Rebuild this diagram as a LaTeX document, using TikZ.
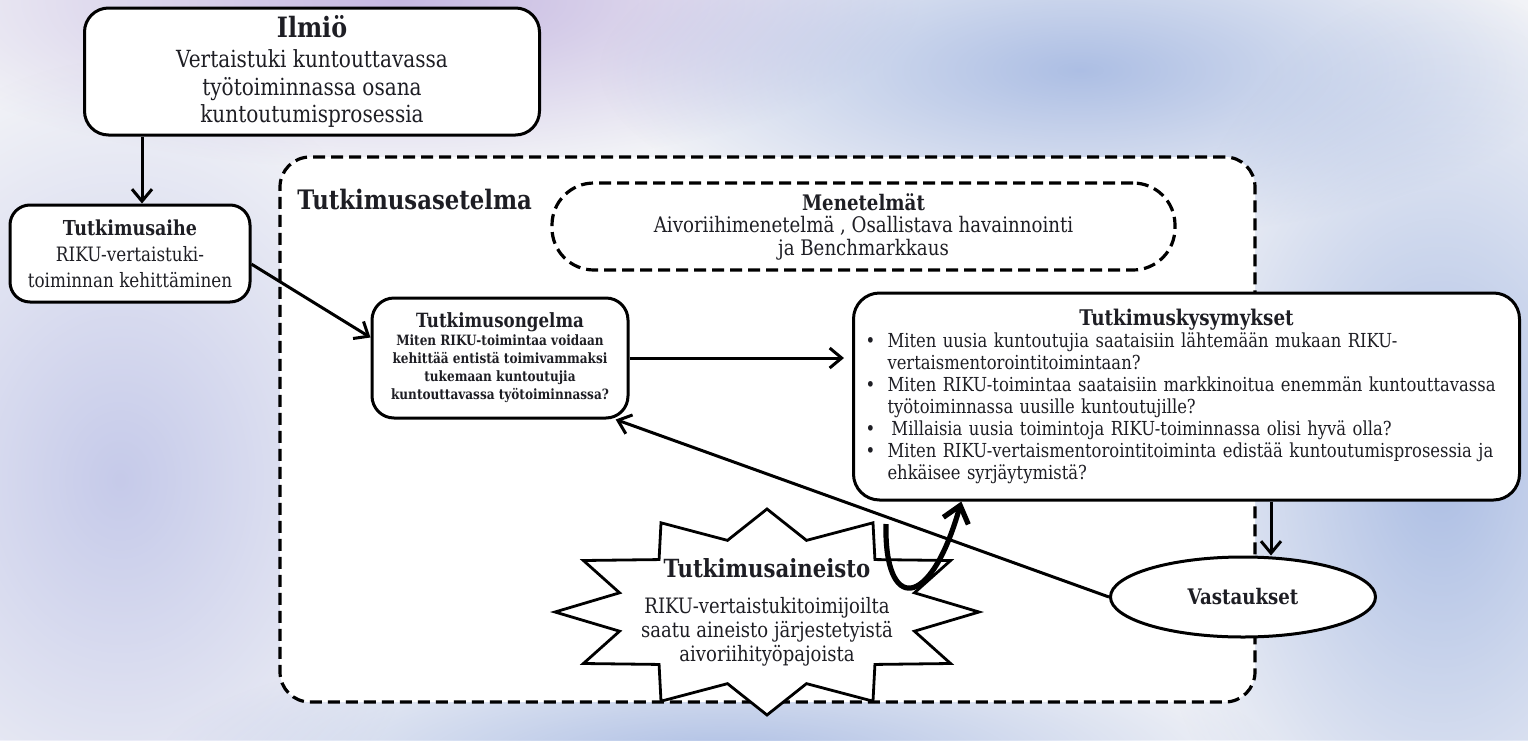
\documentclass[tikz,border=0pt]{standalone}
\usepackage{fontspec}
\setmainfont[FakeStretch=0.85]{DejaVu Serif}
\usepackage{tikz}
\usetikzlibrary{shapes.geometric, arrows.meta, positioning, fadings}
\definecolor{inkc}{HTML}{1E1E24}
\definecolor{paper}{HTML}{F2F3F7}
\definecolor{wpurple}{HTML}{B39FD8}
\definecolor{wblue}{HTML}{8FA8DC}
\definecolor{wlilac}{HTML}{B3B9E4}
\tikzfading[name=blobfade, inner color=transparent!0, outer color=transparent!100]
\tikzstyle{solidbox} = [rectangle, rounded corners=12pt, draw=black, line width=1.5pt, fill=white, align=center, text=inkc, inner sep=2pt]
\tikzstyle{dashbox} = [rectangle, draw=black, line width=1.6pt, dash pattern=on 6pt off 3pt, fill=white, text=inkc]
\tikzstyle{arrow} = [line width=1.5pt, -{Straight Barb[length=6pt,width=10pt]}]
\tikzstyle{blob} = [path fading=blobfade, opacity=0.7]
\newcommand{\kysrivi}[1]{\mbox{\makebox[11pt][l]{\textbullet}#1}}
\newcommand{\kysjatko}[1]{\mbox{\hspace*{11pt}#1}}

\begin{document}
\begin{tikzpicture}[x=0.5pt, y=-0.5pt]
\useasboundingbox (0,0) rectangle (1528,740);

% Background
\fill[paper] (0,0) rectangle (1528,740);
\fill[wpurple, blob] (400,0) ellipse [x radius=520, y radius=170];
\fill[wblue, blob] (1080,70) ellipse [x radius=480, y radius=170];
\fill[wlilac, blob] (120,480) ellipse [x radius=330, y radius=420];
\fill[wblue, blob] (1440,470) ellipse [x radius=300, y radius=480];
\fill[wblue, blob] (720,760) ellipse [x radius=560, y radius=130];

% Nodes (line breaks as in the drawing)
\node (frame) [dashbox, rounded corners=15pt, minimum width=487.5pt, minimum height=272.5pt] at (767.5,429.5) {};
\node (asetelma) [anchor=west, inner sep=0pt, text=inkc, font=\fontsize{13.4}{15}\selectfont\bfseries] at (297,200) {Tutkimusasetelma};
\node (ilmio) [solidbox, minimum width=227.5pt, minimum height=63.5pt, font=\fontsize{11.8}{13.75}\selectfont] at (312,71.5) {{\fontsize{14}{15}\selectfont\bfseries Ilmiö}\\[1.5pt] Vertaistuki kuntouttavassa\\ työtoiminnassa osana\\ kuntoutumisprosessia};
\node (aihe) [solidbox, rounded corners=10pt, minimum width=120pt, minimum height=48.5pt, font=\fontsize{9.9}{13}\selectfont] at (130,253.5) {{\fontsize{10.3}{12}\selectfont\bfseries Tutkimusaihe}\\ RIKU-vertaistuki-\\ toiminnan kehittäminen};
\node (menetelmat) [dashbox, rounded corners=21pt, minimum width=311.5pt, minimum height=43.5pt, align=center, font=\fontsize{10.7}{11.25}\selectfont] at (863.5,226.5) {{\bfseries Menetelmät}\\ Aivoriihimenetelmä , Osallistava havainnointi\\ ja Benchmarkkaus};
\node (ongelma) [solidbox, rounded corners=11pt, minimum width=128pt, minimum height=60pt, font=\fontsize{7.1}{9}\selectfont\bfseries] at (500,358) {{\fontsize{9.8}{11}\selectfont Tutkimusongelma}\\ Miten RIKU-toimintaa voidaan\\ kehittää entistä toimivammaksi\\ tukemaan kuntoutujia\\ kuntouttavassa työtoiminnassa?};
\node (kysymykset) [solidbox, rounded corners=13pt, text width=321pt, inner xsep=6pt, minimum height=103.5pt, align=left, font=\fontsize{9.65}{11}\selectfont] at (1186.5,396.5) {\makebox[321pt][c]{\fontsize{10.8}{12}\selectfont\bfseries Tutkimuskysymykset}\\
  \kysrivi{Miten uusia kuntoutujia saataisiin lähtemään mukaan RIKU-}\\
  \kysjatko{vertaismentorointitoimintaan?}\\
  \kysrivi{Miten RIKU-toimintaa saataisiin markkinoitua enemmän kuntouttavassa}\\
  \kysjatko{työtoiminnassa uusille kuntoutujille?}\\
  \kysrivi{\hspace{2pt}Millaisia uusia toimintoja RIKU-toiminnassa olisi hyvä olla?}\\
  \kysrivi{Miten RIKU-vertaismentorointitoiminta edistää kuntoutumisprosessia ja}\\
  \kysjatko{ehkäisee syrjäytymistä?}};
\node (vastaukset) [ellipse, draw=black, line width=1.5pt, fill=white, text=inkc, minimum width=132.5pt, minimum height=40pt, inner sep=0pt, font=\fontsize{10.7}{12}\selectfont\bfseries] at (1243,597) {Vastaukset};
% star round the data
\coordinate (tahti) at (767,612);
\draw [line width=1.4pt, fill=white, shift={(tahti)}] (90:212 and 103)
  \foreach \k [evaluate=\k as \rf using {1-0.28*mod(\k,2)}] in {1,...,23} { -- ({90+15*\k}:{212*\rf} and {103*\rf}) } -- cycle;
\node (aineisto) [align=center, text=inkc, inner sep=0pt, font=\fontsize{10.6}{12}\selectfont] at (tahti) {{\fontsize{12.5}{14}\selectfont\bfseries Tutkimusaineisto}\\[6pt] RIKU-vertaistukitoimijoilta\\ saatu aineisto järjestetyistä\\ aivoriihityöpajoista};
\coordinate (kierrealku) at (886,524);

% Arrows
\draw [arrow] ([xshift=6pt]aihe.north |- ilmio.south) -- ([xshift=6pt]aihe.north);
\draw [arrow] (aihe.-5) -- (ongelma.171);
\draw [arrow, shorten >=4pt] (ongelma.east) -- (kysymykset.west |- ongelma.east);
\draw [arrow] ([xshift=14pt]vastaukset.north |- kysymykset.south) -- ([xshift=14pt]vastaukset.north);
\draw [arrow] (vastaukset.west) -- (ongelma.-28);
\draw [line width=2.6pt, -{Straight Barb[length=8pt,width=13pt]}] (kierrealku) .. controls (884,612) and (930,612) .. (kysymykset.205);

\end{tikzpicture}
\end{document}
